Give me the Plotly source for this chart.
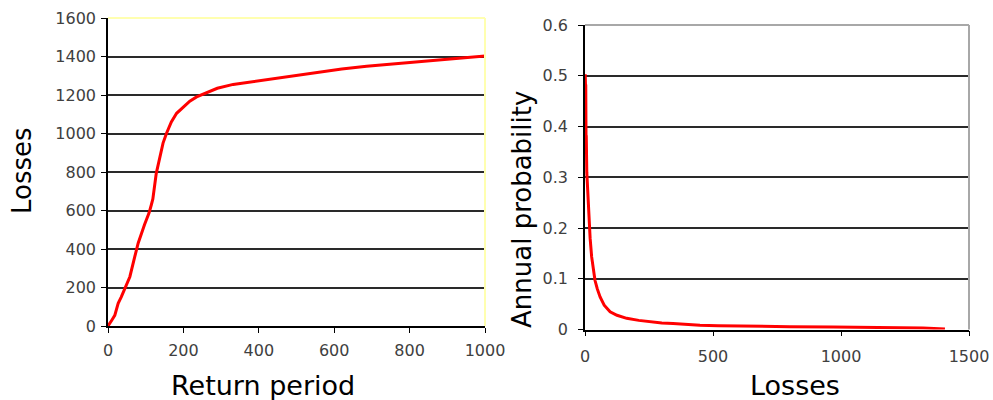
import plotly.graph_objects as go

# Left chart: Return period vs Losses
return_period = [0, 4, 10, 18, 27, 35, 44, 58, 71, 80, 97, 109, 115, 119, 128, 137, 146, 155,
                 168, 182, 200, 217, 235, 252, 290, 332, 420, 500, 562, 620, 686, 780, 863, 940, 1000]
rp_losses = [0, 10, 30, 55, 118, 150, 190, 256, 360, 430, 527, 588, 630, 660, 793, 880, 950, 1000,
             1060, 1105, 1140, 1168, 1190, 1205, 1235, 1255, 1280, 1300, 1318, 1335, 1349, 1365, 1380, 1390, 1402]

# Right chart: Losses vs Annual probability
ep_losses = [0, 1, 2, 3, 4, 5, 7, 9, 12, 15, 20, 26, 32, 39, 48, 59, 75, 98, 125, 163, 210, 254,
             300, 344, 400, 449, 520, 617, 700, 800, 969, 1100, 1217, 1320, 1406]
ep_prob = [0.5, 0.5, 0.48, 0.48, 0.38, 0.38, 0.31, 0.29, 0.25, 0.22, 0.18, 0.143, 0.12, 0.097, 0.08,
           0.064, 0.048, 0.035, 0.028, 0.022, 0.018, 0.015, 0.013, 0.012, 0.01, 0.0085, 0.0075,
           0.0066, 0.006, 0.0055, 0.005, 0.0045, 0.004, 0.003, 0.001]

left_yticks = [0, 200, 400, 600, 800, 1000, 1200, 1400, 1600]
left_xticks = [0, 200, 400, 600, 800, 1000]
right_yticks = [0, 0.1, 0.2, 0.3, 0.4, 0.5, 0.6]
right_ytext = ["0", "0.1", "0.2", "0.3", "0.4", "0.5", "0.6"]
right_xticks = [0, 500, 1000, 1500]

RED = "#ff0000"
TICKFONT = dict(family="DejaVu Sans", size=16, color="#404040")
TITLEFONT_H = dict(family="DejaVu Sans", size=27, color="#000000")
TITLEFONT_V = dict(family="DejaVu Sans", size=26, color="#000000")
GRID = "#2a2a2a"

fig = go.Figure()
fig.add_trace(go.Scatter(x=return_period, y=rp_losses, mode="lines",
                         line=dict(color=RED, width=3), xaxis="x", yaxis="y",
                         showlegend=False, hoverinfo="skip"))
fig.add_trace(go.Scatter(x=ep_losses, y=ep_prob, mode="lines",
                         line=dict(color=RED, width=3), xaxis="x2", yaxis="y2",
                         showlegend=False, hoverinfo="skip"))

W, H = 993, 400
axis_common = dict(showline=True, linecolor="#000000", linewidth=1.5, zeroline=False,
                   ticks="outside", ticklen=5, tickcolor="#000000", tickfont=TICKFONT,
                   fixedrange=True, automargin=False)

fig.update_layout(
    width=W, height=H,
    margin=dict(l=0, r=0, t=0, b=0, autoexpand=False),
    paper_bgcolor="white", plot_bgcolor="white",
    xaxis=dict(domain=[108 / W, 485 / W], range=[0, 1000], tickvals=left_xticks,
               showgrid=False, anchor="y", ticklabelstandoff=4, **axis_common),
    yaxis=dict(domain=[1 - 326 / H, 1 - 18 / H], range=[0, 1600], tickvals=left_yticks,
               showgrid=True, gridcolor=GRID, gridwidth=1.5, anchor="x", ticklabelstandoff=2,
               **axis_common),
    xaxis2=dict(domain=[585 / W, 969 / W], range=[0, 1500], tickvals=right_xticks,
                showgrid=False, anchor="y2", ticklabelstandoff=7, **axis_common),
    yaxis2=dict(domain=[1 - 329.5 / H, 1 - 25 / H], range=[0, 0.6], tickvals=right_yticks,
                ticktext=right_ytext, showgrid=True, gridcolor=GRID, gridwidth=1.5, anchor="x2",
                ticklabelstandoff=7, **axis_common),
)

# plot area borders (top/right)
fig.add_shape(type="line", xref="x domain", yref="y domain", x0=0, x1=1, y0=1, y1=1,
              line=dict(color="#ffffb0", width=2), layer="above")
fig.add_shape(type="line", xref="x domain", yref="y domain", x0=1, x1=1, y0=0, y1=1,
              line=dict(color="#ffffb0", width=2), layer="above")
fig.add_shape(type="line", xref="x2 domain", yref="y2 domain", x0=0, x1=1, y0=1, y1=1,
              line=dict(color="#a8a8a8", width=2), layer="above")
fig.add_shape(type="line", xref="x2 domain", yref="y2 domain", x0=1, x1=1, y0=0, y1=1,
              line=dict(color="#a8a8a8", width=2), layer="above")

# axis titles
fig.add_annotation(text="Losses", xref="paper", yref="paper", x=22 / W, y=1 - 171 / H,
                   textangle=-90, showarrow=False, font=TITLEFONT_V, xanchor="center", yanchor="middle")
fig.add_annotation(text="Return period", xref="paper", yref="paper", x=263 / W, y=1 - 385 / H,
                   showarrow=False, font=TITLEFONT_H, xanchor="center", yanchor="middle")
fig.add_annotation(text="Annual probability", xref="paper", yref="paper", x=522 / W, y=1 - 210 / H,
                   textangle=-90, showarrow=False, font=TITLEFONT_V, xanchor="center", yanchor="middle")
fig.add_annotation(text="Losses", xref="paper", yref="paper", x=795 / W, y=1 - 385 / H,
                   showarrow=False, font=TITLEFONT_H, xanchor="center", yanchor="middle")

fig.write_html("out.html", config={"displayModeBar": False},
               post_script="document.body.style.margin='0';document.body.style.overflow='hidden';")
